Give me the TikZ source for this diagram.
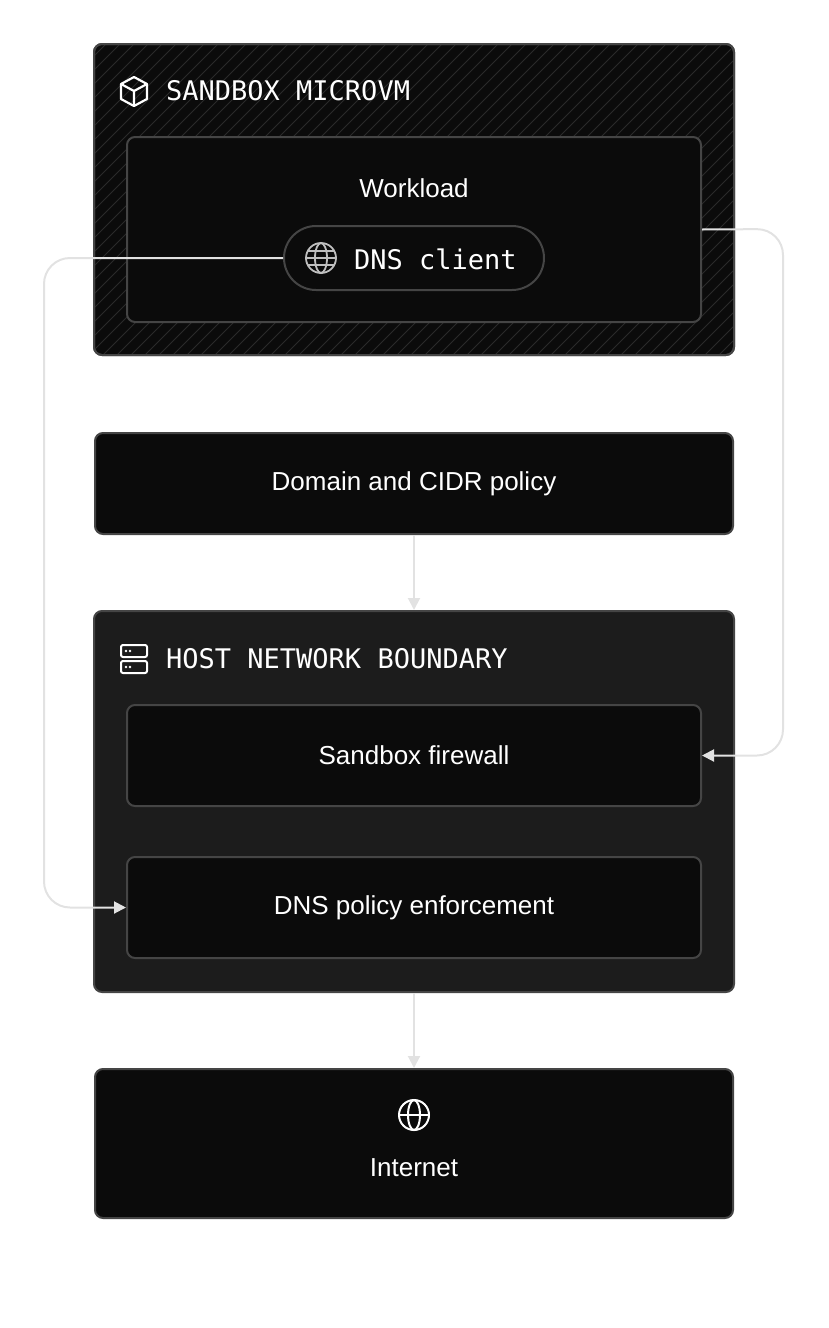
\documentclass[tikz,border=0pt]{standalone}
\usepackage{fontspec}
\setmainfont{Liberation Sans}
\setmonofont{DejaVu Sans Mono}
\usetikzlibrary{arrows.meta}
\definecolor{boxfill}{HTML}{0B0B0B}
\definecolor{hostfill}{HTML}{1C1C1C}
\definecolor{edgegray}{HTML}{454545}
\definecolor{wiregray}{HTML}{E2E2E2}
\definecolor{hatch}{HTML}{2A2A2A}
\begin{document}
\begin{tikzpicture}[x=1pt,y=-1pt,
panel/.style = {draw=edgegray, line width=2pt, fill=boxfill, rounded corners=8pt, inner sep=0pt},
card/.style = {panel, minimum width=574pt, minimum height=101pt, font=\fontsize{26}{30}\selectfont, text=white},
title/.style = {anchor=west, font=\ttfamily\fontsize{27}{30}\selectfont, text=white, inner sep=0pt},
wire/.style = {draw=wiregray, line width=2pt, rounded corners=26pt},
tip/.style = {-{Triangle[length=12pt,width=12pt]}}
]
\useasboundingbox (0,0) rectangle (828,1328);

% sandbox microvm
\node [panel, minimum width=640pt, minimum height=311pt] (vm) at (414,199.5) {};
\begin{scope}
  \clip [rounded corners=8pt] (95,45) rectangle (733,354);
  \foreach \i in {-350,-336,...,760} \draw [hatch, line width=1pt] (\i,360) -- (\i+330,30);
\end{scope}
\node [panel, minimum width=640pt, minimum height=311pt, fill=none] at (414,199.5) {};
\node [title] (vmtitle) at (166,91) {SANDBOX MICROVM};
\begin{scope}[draw=white, line width=2.2pt, line join=round]
  \draw (134,77) -- (147,84) -- (147,99) -- (134,106) -- (121,99) -- (121,84) -- cycle;
  \draw (121,84) -- (134,91) -- (147,84) (134,91) -- (134,106);
\end{scope}
\node [panel, minimum width=574pt, minimum height=185pt] (work) at (414,229.5) {};
\node [text=white, font=\fontsize{26}{30}\selectfont] (worklabel) at (414,188) {Workload};
\node [panel, rounded corners=32pt, minimum width=260pt, minimum height=64pt] (client) at (414,258) {};
\node [title] (clientlabel) at (354,259) {DNS client};
\begin{scope}[draw=white!75!black, line width=1.8pt]
  \draw (321,258) circle (15pt);
  \draw (321,258) ellipse (6pt and 15pt);
  \draw (306,258) -- (336,258) (308,251) -- (334,251) (308,265) -- (334,265);
\end{scope}

% policy
\node [card, minimum width=638pt] (policy) at (414,483.5) {Domain and CIDR policy};

% host network boundary
\node [panel, fill=hostfill, minimum width=640pt, minimum height=381pt] (host) at (414,801.5) {};
\node [title] (hosttitle) at (166,659) {HOST NETWORK BOUNDARY};
\begin{scope}[draw=white, line width=2pt]
  \draw [rounded corners=2pt] (121,645) rectangle (147,657);
  \draw [rounded corners=2pt] (121,661) rectangle (147,673);
  \fill [white] (126,651) circle (1.3pt) (130,651) circle (1.3pt) (126,667) circle (1.3pt) (130,667) circle (1.3pt);
\end{scope}
\node [card] (firewall) at (414,755.5) {Sandbox firewall};
\node [card] (dnspol) at (414,907.5) {DNS policy enforcement};

% internet
\node [panel, minimum width=638pt, minimum height=149pt] (net) at (414,1143.5) {};
\node [text=white, font=\fontsize{26}{30}\selectfont] (netlabel) at (414,1168) {Internet};
\begin{scope}[draw=white, line width=2pt]
  \draw (414,1115) circle (15pt);
  \draw (414,1115) ellipse (6pt and 15pt);
  \draw (399,1115) -- (429,1115);
\end{scope}

% connectors
\coordinate (leftbend) at (44,258);
\coordinate (rightbend) at (783,229);
\draw [wire, tip] (client.west) -- (leftbend) |- (dnspol.west);
\draw [wire, tip] (work.east) -- (rightbend) |- (firewall.east);
\draw [wire, tip] (policy.south) -- (host.north);
\draw [wire, tip] (host.south) -- (net.north);
\end{tikzpicture}
\end{document}
